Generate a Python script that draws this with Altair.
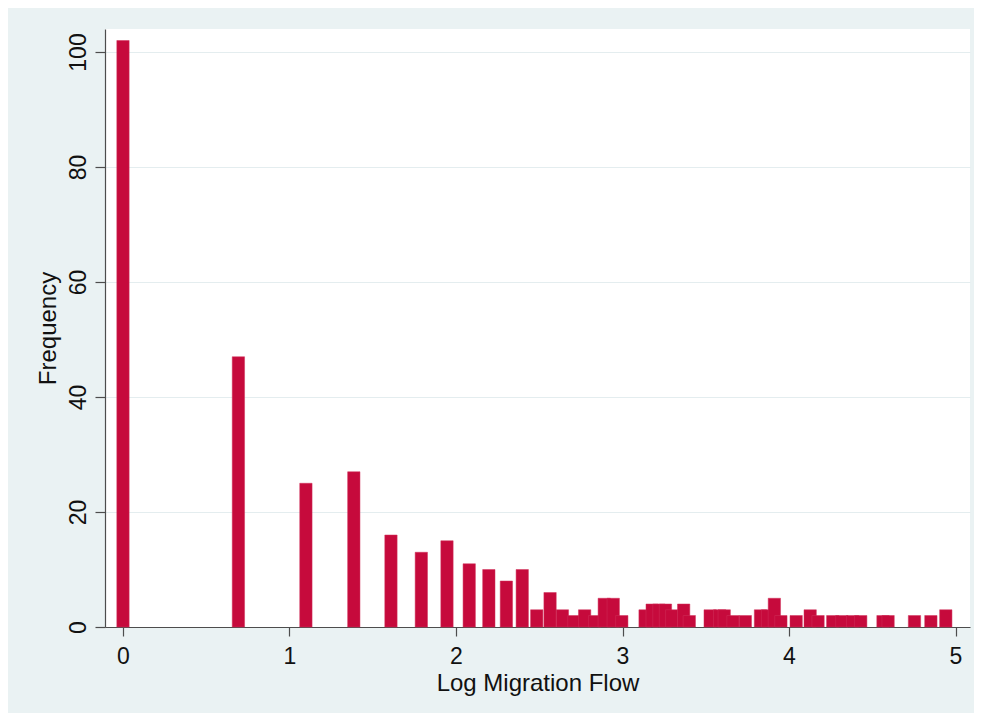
import altair as alt
import pandas as pd

# Migration flow values (counts of people) and how many observations have each value
flows = [1, 2, 3, 4, 5, 6, 7, 8, 9, 10,
         11, 12, 13, 14, 15, 16, 17, 18, 19, 20,
         23, 24, 25, 26, 27, 29, 30,
         34, 36, 37, 39, 42,
         46, 48, 50, 52,
         57, 62, 65,
         71, 75, 80, 84,
         96, 99,
         116, 128, 140]
counts = [102, 47, 25, 27, 16, 13, 15, 11, 10, 8,
          10, 3, 6, 3, 2, 3, 2, 5, 5, 2,
          3, 4, 4, 4, 3, 4, 2,
          3, 3, 3, 2, 2,
          3, 3, 5, 2,
          2, 3, 2,
          2, 2, 2, 2,
          2, 2,
          2, 2, 3]

x_ticks = [0, 1, 2, 3, 4, 5]
y_ticks = [0, 20, 40, 60, 80, 100]

df = pd.DataFrame({"flow": flows, "count": counts})

BAR_HALF = 0.037
W, H = 865, 598
FONT = "Liberation Sans"

chart = (
    alt.Chart(df)
    .transform_calculate(
        lo=f"log(datum.flow) - {BAR_HALF}",
        hi=f"log(datum.flow) + {BAR_HALF}",
    )
    .mark_bar(color="#c60a3c", stroke="#d0305a", strokeWidth=0.5)
    .encode(
        x=alt.X(
            "lo:Q",
            scale=alt.Scale(domain=[-0.108, 5.087], nice=False, zero=False, padding=0),
            axis=alt.Axis(
                values=x_ticks,
                title="Log Migration Flow",
                grid=False,
                format="d",
                tickSize=9,
                labelPadding=27,
                labelBaseline="alphabetic",
                titleX=W / 2,
                titleY=63,
                titleBaseline="alphabetic",
                titleAlign="center",
            ),
        ),
        x2="hi:Q",
        y=alt.Y(
            "count:Q",
            scale=alt.Scale(domain=[0, 104], nice=False, padding=0),
            axis=alt.Axis(
                values=y_ticks,
                title="Frequency",
                grid=True,
                tickSize=10,
                labelPadding=10,
                labelAngle=270,
                labelAlign="center",
                labelBaseline="alphabetic",
                titleAngle=270,
                titleX=-50,
                titleY=H / 2,
                titleBaseline="alphabetic",
                titleAlign="center",
            ),
        ),
        y2=alt.datum(0),
    )
    .properties(
        width=W,
        height=H,
        autosize="none",
        padding={"left": 97, "top": 21, "right": 4, "bottom": 86},
        background="#eaf2f3",
    )
    .configure_view(fill="white", stroke=None)
    .configure_axis(
        domainColor="#4d4d4d",
        domainWidth=1.2,
        tickColor="#4d4d4d",
        tickWidth=1.2,
        gridColor="#e4edef",
        gridWidth=1,
        labelFont=FONT,
        labelFontSize=23,
        labelColor="#111111",
        titleFont=FONT,
        titleFontSize=24,
        titleFontWeight="normal",
        titleColor="#111111",
        labelOverlap=False,
        labelFlush=False,
    )
)

chart.save("out.html", embed_options={"renderer": "svg", "actions": False})
